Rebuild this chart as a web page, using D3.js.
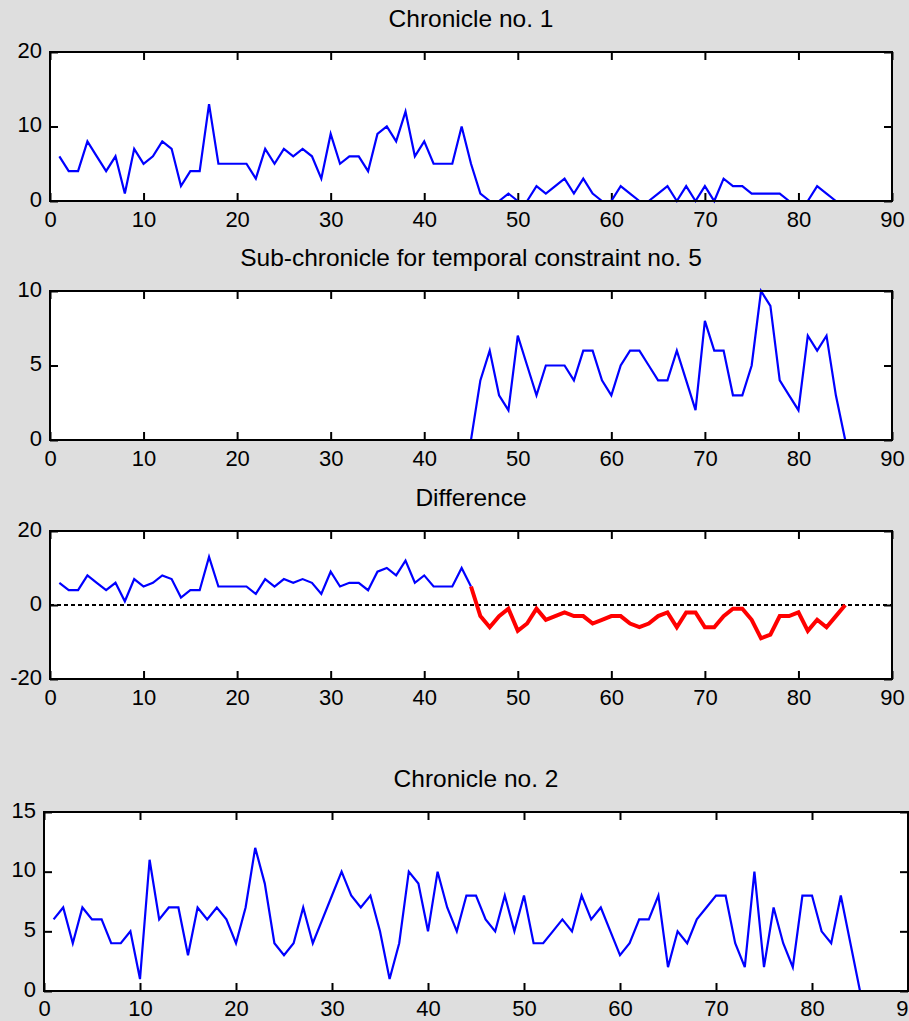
<!DOCTYPE html>
<html>
<head>
<meta charset="utf-8">
<script src="https://cdn.jsdelivr.net/npm/d3@7/dist/d3.min.js"></script>
<style>
  body { margin: 0; background: #dedede; }
  svg { display: block; }
  text { font-family: "Liberation Sans", Arial, Helvetica, sans-serif; fill: #000; }
</style>
</head>
<body>
<div id="chart"></div>
<script>

// time steps 1..85 for all chronicles
var steps = d3.range(1, 86);

// Chronicle no. 1 (counts per step)
var chronicle1 = [6,4,4,8,6,4,6,1,7,5, 6,8,7,2,4,4,13,5,5,5, 5,3,7,5,7,6,7,6,3,9,
                  5,6,6,4,9,10,8,12,6,8, 5,5,5,10,5,1,0,0,1,0, 0,2,1,2,3,1,3,1,0,0,
                  2,1,0,0,1,2,0,2,0,2, 0,3,2,2,1,1,1,1,0,0, 0,2,1,0,0];

// sub-chronicle for temporal constraint no. 5
var subChronicle = [0,0,0,0,0,0,0,0,0,0, 0,0,0,0,0,0,0,0,0,0, 0,0,0,0,0,0,0,0,0,0,
                    0,0,0,0,0,0,0,0,0,0, 0,0,0,0,0,4,6,3,2,7, 5,3,5,5,5,4,6,6,4,3,
                    5,6,6,5,4,4,6,4,2,8, 6,6,3,3,5,10,9,4,3,2, 7,6,7,3,0];

// difference (blue up to step 45, red from step 45)
var difference = [6,4,4,8,6,4,6,1,7,5, 6,8,7,2,4,4,13,5,5,5, 5,3,7,5,7,6,7,6,3,9,
                  5,6,6,4,9,10,8,12,6,8, 5,5,5,10,5,-3,-6,-3,-1,-7, -5,-1,-4,-3,-2,-3,-3,-5,-4,-3,
                  -3,-5,-6,-5,-3,-2,-6,-2,-2,-6, -6,-3,-1,-1,-4,-9,-8,-3,-3,-2, -7,-4,-6,-3,0];
var splitStep = 45;

// Chronicle no. 2
var chronicle2 = [6,7,4,7,6,6,4,4,5,1, 11,6,7,7,3,7,6,7,6,4, 7,12,9,4,3,4,7,4,6,8,
                  10,8,7,8,5,1,4,10,9,5, 10,7,5,8,8,6,5,8,5,8, 4,4,5,6,5,8,6,7,5,3,
                  4,6,6,8,2,5,4,6,7,8, 8,4,2,10,2,7,4,2,8,8, 5,4,8,4,0];

// axis ticks
var xTicks = [0,10,20,30,40,50,60,70,80,90];
var yTicks1 = [0,10,20];
var yTicks2 = [0,5,10];
var yTicks3 = [-20,0,20];
var yTicks4 = [0,5,10,15];

var width = 909, height = 1021;

var svg = d3.select('#chart').append('svg')
  .attr('width', width)
  .attr('height', height);

svg.append('rect').attr('width', width).attr('height', height).attr('fill', '#dedede');

// plain hyphen minus like matlab labels
var fmt = function(d) { return String(d); };

// draws one MATLAB-style axes box and returns its scales
function drawAxes(box, yDomain, yTicks, title, xPad) {
  var x = d3.scaleLinear().domain([0, 90]).range([box.left, box.right]);
  var y = d3.scaleLinear().domain(yDomain).range([box.bottom, box.top]);

  var g = svg.append('g');

  g.append('rect')
    .attr('x', box.left).attr('y', box.top)
    .attr('width', box.right - box.left).attr('height', box.bottom - box.top)
    .attr('fill', '#fff');

  var bottomAxis = g.append('g')
    .attr('transform', 'translate(0,' + box.bottom + ')')
    .call(d3.axisBottom(x).tickValues(xTicks).tickFormat(fmt).tickSize(-8).tickSizeOuter(0).tickPadding(xPad || 10.5));
  var topAxis = g.append('g')
    .attr('transform', 'translate(0,' + box.top + ')')
    .call(d3.axisTop(x).tickValues(xTicks).tickSize(-8).tickSizeOuter(0).tickFormat(''));
  var leftAxis = g.append('g')
    .attr('transform', 'translate(' + box.left + ',0)')
    .call(d3.axisLeft(y).tickValues(yTicks).tickFormat(fmt).tickSize(-8).tickSizeOuter(0).tickPadding(8));
  var rightAxis = g.append('g')
    .attr('transform', 'translate(' + box.right + ',0)')
    .call(d3.axisRight(y).tickValues(yTicks).tickSize(-8).tickSizeOuter(0).tickFormat(''));

  g.selectAll('.domain').remove();
  g.selectAll('.tick line').attr('stroke', '#000').attr('stroke-width', 2);
  g.selectAll('.tick text').attr('font-size', 22).attr('fill', '#000')
    .attr('font-family', '"Liberation Sans", Arial, sans-serif');
  leftAxis.selectAll('.tick text').attr('dy', '0.24em');

  g.append('text')
    .attr('x', (box.left + box.right) / 2)
    .attr('y', box.top - 25)
    .attr('text-anchor', 'middle')
    .attr('font-size', 24.5)
    .text(title);

  return { g: g, x: x, y: y, box: box };
}

function drawBorder(ax) {
  var b = ax.box;
  ax.g.append('rect')
    .attr('x', b.left).attr('y', b.top)
    .attr('width', b.right - b.left).attr('height', b.bottom - b.top)
    .attr('fill', 'none')
    .attr('stroke', '#000')
    .attr('stroke-width', 2);
}

function drawSeries(ax, xs, ys, color, w) {
  var line = d3.line()
    .x(function(d) { return ax.x(d[0]); })
    .y(function(d) { return ax.y(d[1]); });
  ax.g.append('path')
    .datum(d3.zip(xs, ys))
    .attr('fill', 'none')
    .attr('stroke', color)
    .attr('stroke-width', w)
    .attr('stroke-linejoin', 'miter')
    .attr('d', line);
}

// panel 1
var ax1 = drawAxes({left: 50, right: 892, top: 52, bottom: 201}, [0, 20], yTicks1, 'Chronicle no. 1');
drawSeries(ax1, steps, chronicle1, '#0000ff', 2.2);
drawBorder(ax1);

// panel 2
var ax2 = drawAxes({left: 50, right: 892, top: 291, bottom: 440}, [0, 10], yTicks2, 'Sub-chronicle for temporal constraint no. 5');
drawSeries(ax2, steps, subChronicle, '#0000ff', 2.2);
drawBorder(ax2);

// panel 3
var ax3 = drawAxes({left: 50, right: 892, top: 531, bottom: 679}, [-20, 20], yTicks3, 'Difference');
ax3.g.append('line')
  .attr('x1', ax3.x(0)).attr('x2', ax3.x(90))
  .attr('y1', ax3.y(0)).attr('y2', ax3.y(0))
  .attr('stroke', '#000')
  .attr('stroke-width', 2)
  .attr('stroke-dasharray', '4,3');
drawSeries(ax3, steps.slice(0, splitStep), difference.slice(0, splitStep), '#0000ff', 2.2);
drawSeries(ax3, steps.slice(splitStep - 1), difference.slice(splitStep - 1), '#ff0000', 4);
drawBorder(ax3);

// panel 4 (labels pulled up a touch so they fit the bottom edge)
var ax4 = drawAxes({left: 44, right: 908, top: 812, bottom: 991}, [0, 15], yTicks4, 'Chronicle no. 2', 9);
drawSeries(ax4, steps, chronicle2, '#0000ff', 2.2);
drawBorder(ax4);

</script>
</body>
</html>
